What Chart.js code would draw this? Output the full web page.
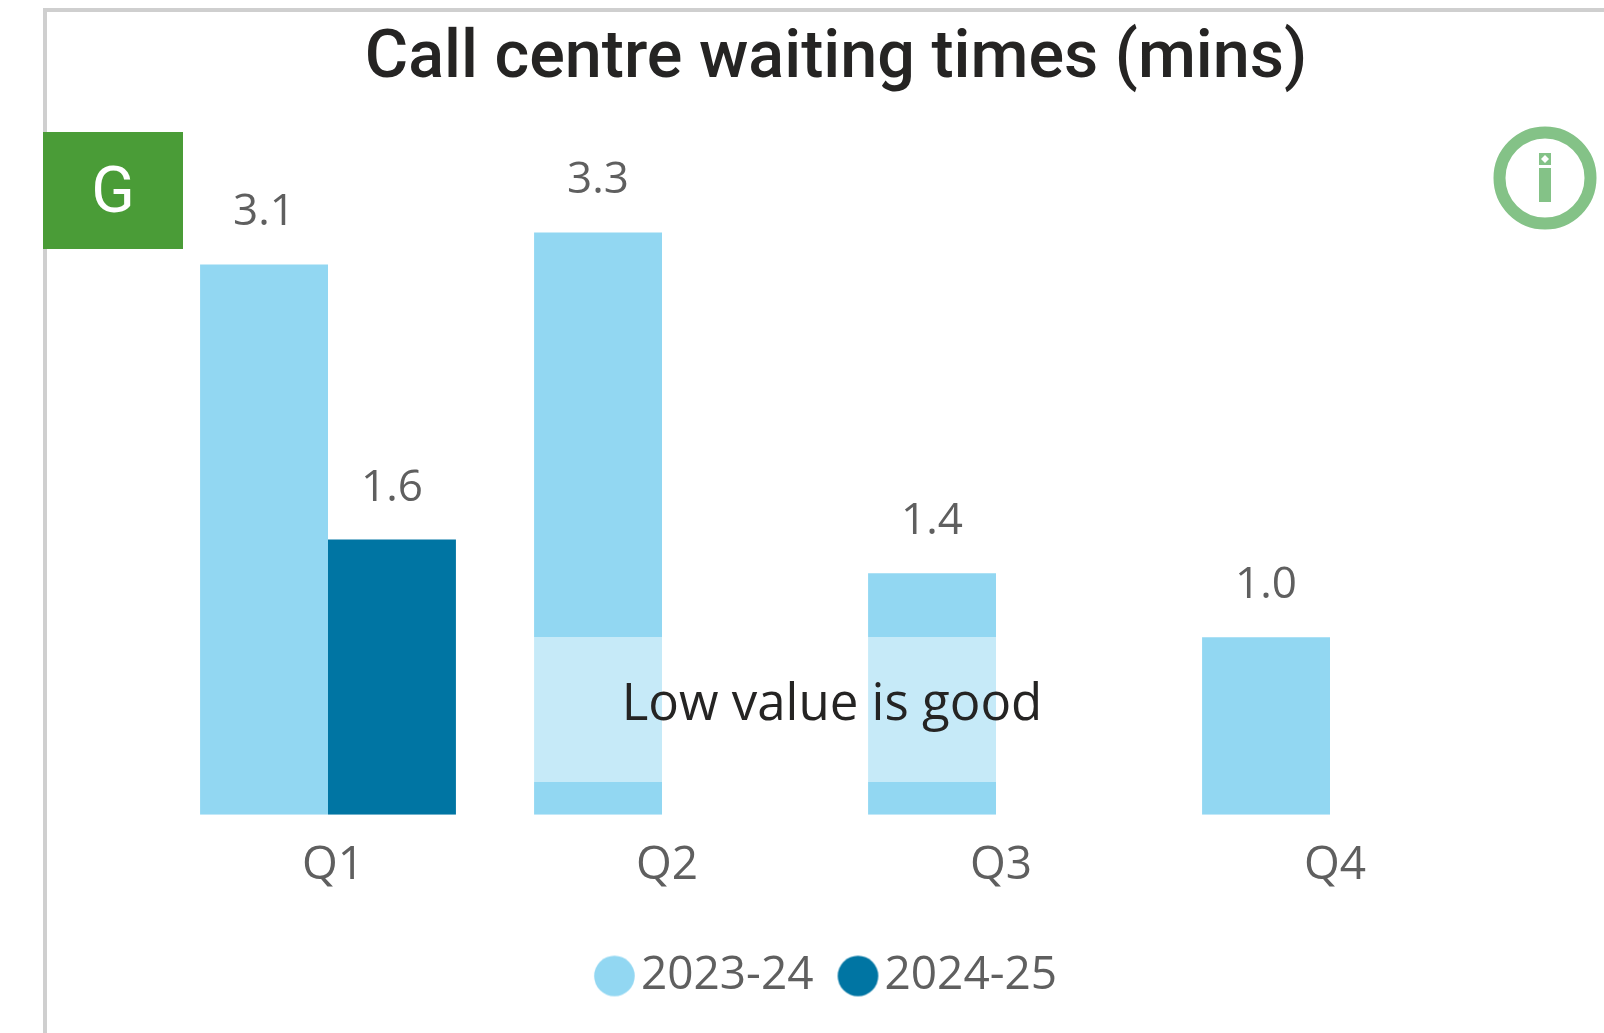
<!DOCTYPE html>
<html><head><meta charset="utf-8">
<script src="https://cdn.jsdelivr.net/npm/chart.js@4/dist/chart.umd.min.js"></script>
<style>
html,body{margin:0;padding:0;background:#fff;width:1604px;height:1033px;overflow:hidden}
#wrap{position:relative;width:1604px;height:1033px}
canvas{position:absolute;left:0;top:0}
.frameT{position:absolute;left:43px;top:8px;right:0;height:4px;background:#cfcfcf}
.frameL{position:absolute;left:43px;top:8px;bottom:0;width:4px;background:#cfcfcf}
.rag{position:absolute;left:43px;top:132px;width:140px;height:117px;background:#4a9c37;color:#fff;font:400 64px Roboto,sans-serif;display:flex;align-items:center;justify-content:center}
.note{position:absolute;left:510px;top:636.5px;width:644px;height:145px;box-sizing:border-box;padding-bottom:18px;background:rgba(255,255,255,.48);color:#252423;font:51px "Open Sans",sans-serif;display:flex;align-items:center;justify-content:center}
svg{position:absolute;left:1480px;top:115px}
</style></head><body>
<div id="wrap">
<canvas id="c" width="1604" height="1033"></canvas>
<div class="frameT"></div><div class="frameL"></div>
<div class="rag">G</div>
<div class="note">Low value is good</div>
<svg width="124" height="126" viewBox="0 0 124 126"><circle cx="65" cy="63" r="45.5" fill="none" stroke="#84c287" stroke-width="12"/><rect x="59" y="53" width="12" height="34" fill="#84c287"/><rect x="59" y="38" width="12" height="12" fill="#84c287"/><path d="M65 40l4 4-4 4-4-4z" fill="#fff"/></svg>
</div>
<script>
const categories=["Q1","Q2","Q3","Q4"];
const series2023=[3.1,3.28,1.36,1.0];
const series2024=[1.55,null,null,null];
const seriesNames=["2023-24","2024-25"];
const titleText="Call centre waiting times (mins)";
const lightBlue="#92d7f2",darkBlue="#0075a3",grey="#5f5f5f";
function dot(color){
  const c=document.createElement("canvas");c.width=c.height=45;
  const g=c.getContext("2d");g.fillStyle=color;g.beginPath();g.arc(22.5,22.5,20.3,0,Math.PI*2);g.fill();
  return c;
}
const dots=[dot(lightBlue),dot(darkBlue)];
const valueLabels={id:"valueLabels",
 afterLayout(chart){chart.titleBlock.left+=14;chart.legend.left+=10;},
 afterDatasetsDraw(chart){
  const ctx=chart.ctx;ctx.save();
  ctx.font='44px "Open Sans",sans-serif';ctx.fillStyle=grey;ctx.textAlign="center";ctx.textBaseline="alphabetic";
  chart.data.datasets.forEach((d,i)=>{chart.getDatasetMeta(i).data.forEach((b,j)=>{
    if(d.data[j]==null)return;
    ctx.fillText(d.data[j].toFixed(1),b.x,b.y-39);
  });});ctx.restore();
}};
new Chart(document.getElementById("c"),{type:"bar",
 data:{labels:categories,datasets:[
  {label:seriesNames[0],data:series2023,backgroundColor:lightBlue,borderWidth:0,barPercentage:1,categoryPercentage:0.766},
  {label:seriesNames[1],data:series2024,backgroundColor:darkBlue,borderWidth:0,barPercentage:1,categoryPercentage:0.766}]},
 options:{responsive:false,animation:false,
  layout:{padding:{left:161,right:107,top:0,bottom:24}},
  scales:{
   x:{grid:{display:false},border:{display:false},ticks:{color:grey,font:{family:'"Open Sans"',size:46},padding:15,maxRotation:0,labelOffset:5},afterFit(s){s.height+=4;}},
   y:{display:false,min:0,max:4}},
  plugins:{
   title:{display:true,text:titleText,color:"#252423",font:{family:"Roboto",size:66.5,weight:"500"},padding:{top:20,bottom:4.8}},
   legend:{display:true,position:"bottom",labels:{color:grey,font:{family:'"Open Sans"',size:46},usePointStyle:true,boxHeight:7,boxWidth:7,padding:41,
     generateLabels(chart){return Chart.defaults.plugins.legend.labels.generateLabels(chart).map((it,i)=>({...it,pointStyle:dots[i]}));}}},
   tooltip:{enabled:false}}},
 plugins:[valueLabels]});
</script></body></html>
